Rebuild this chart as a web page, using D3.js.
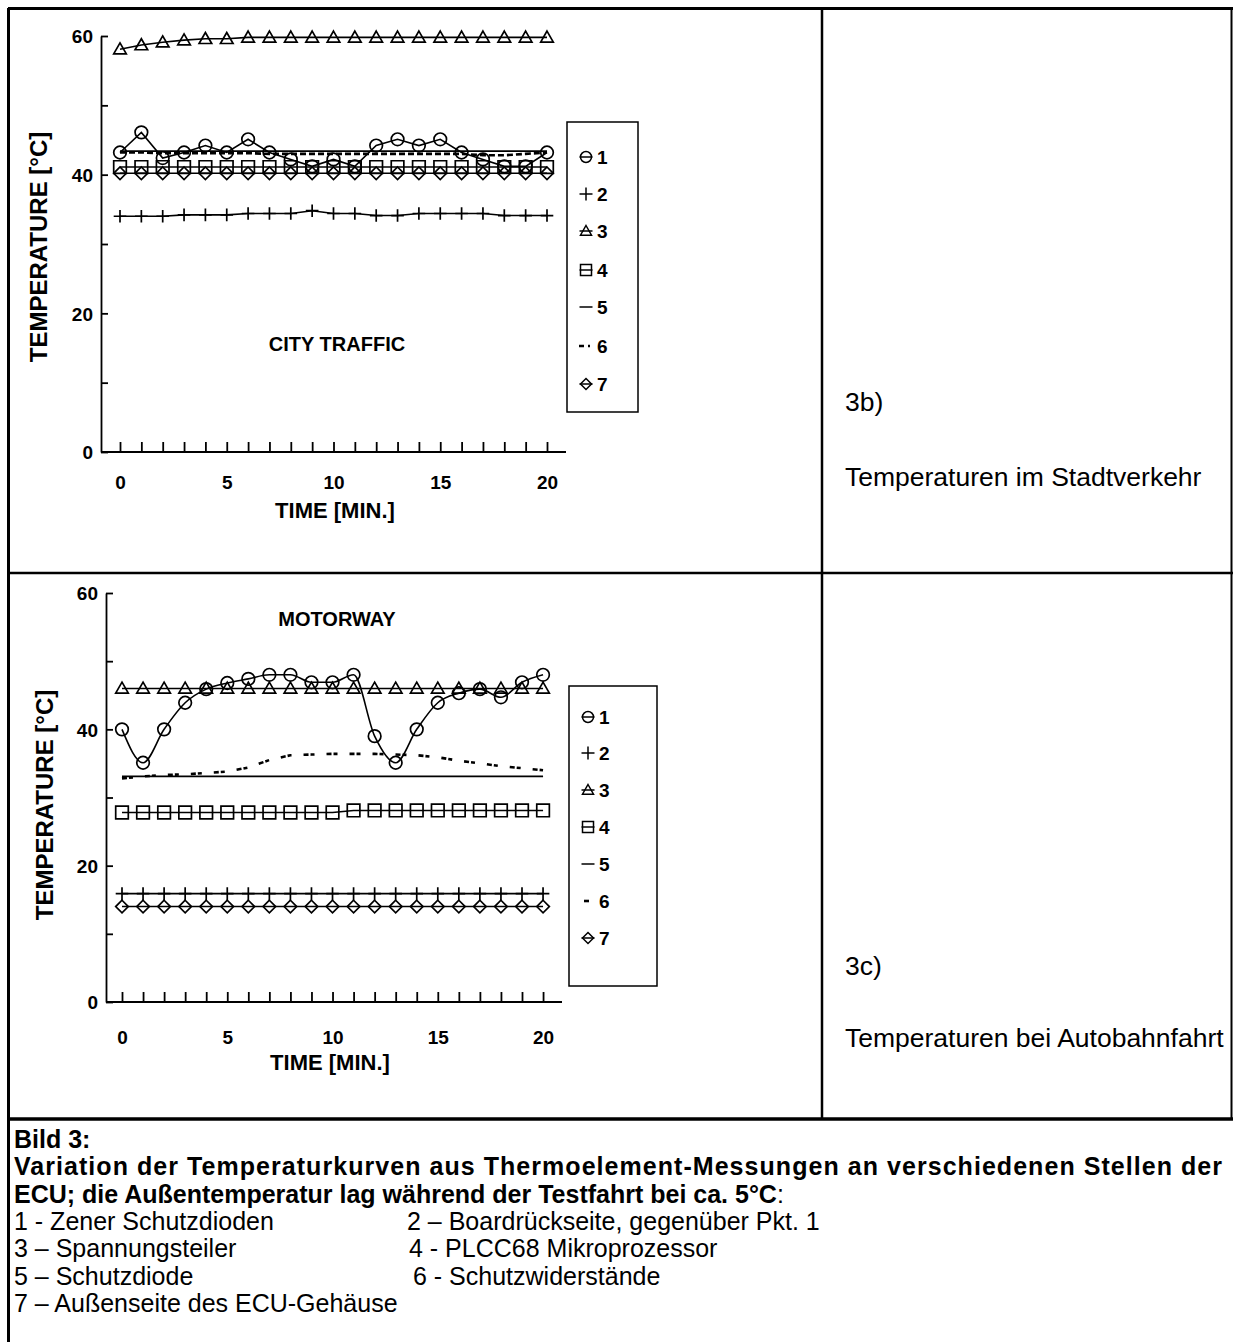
<!DOCTYPE html>
<html>
<head>
<meta charset="utf-8">
<script src="https://cdn.jsdelivr.net/npm/d3@7/dist/d3.min.js"></script>
<style>
  body { margin: 0; background: #fff; }
  svg { display: block; }
  text { font-family: "Liberation Sans", Arial, sans-serif; fill: #000; }
</style>
</head>
<body>
<svg id="fig" width="1233" height="1342"></svg>
<script>
// minutes on the x axis
const minutes = [0, 1, 2, 3, 4, 5, 6, 7, 8, 9, 10, 11, 12, 13, 14, 15, 16, 17, 18, 19, 20]
const xTickLabels = [0, 5, 10, 15, 20]
const yTicks = [0, 10, 20, 30, 40, 50, 60]
const yTickLabels = [0, 20, 40, 60]
const seriesNames = ['1', '2', '3', '4', '5', '6', '7']

// 3b) city traffic
const city1 = [43.2, 46.1, 42.4, 43.2, 44.2, 43.2, 45.1, 43.2, 42.2, 41.2, 42.2, 41.2, 44.2, 45.1, 44.2, 45.1, 43.2, 42.2, 41.2, 41.2, 43.2]
const city2 = [34.0, 34.0, 34.0, 34.2, 34.2, 34.2, 34.4, 34.4, 34.4, 34.8, 34.4, 34.4, 34.1, 34.1, 34.4, 34.4, 34.4, 34.4, 34.1, 34.1, 34.1]
const city3 = [58.1, 58.7, 59.1, 59.4, 59.6, 59.6, 59.8, 59.8, 59.8, 59.8, 59.8, 59.8, 59.8, 59.8, 59.8, 59.8, 59.8, 59.8, 59.8, 59.8, 59.8]
const city4 = [41.1, 41.1, 41.1, 41.1, 41.1, 41.1, 41.1, 41.1, 41.1, 41.1, 41.1, 41.1, 41.1, 41.1, 41.1, 41.1, 41.1, 41.1, 41.1, 41.1, 41.1]
const city5 = [43.4, 43.4, 43.4, 43.4, 43.4, 43.4, 43.4, 43.4, 43.4, 43.4, 43.4, 43.4, 43.4, 43.4, 43.4, 43.4, 43.4, 43.4, 43.4, 43.4, 43.4]
const city6 = [43.2, 43.2, 43.1, 43.1, 43.1, 43.1, 43.1, 43.0, 43.0, 43.0, 43.0, 43.0, 43.0, 43.0, 43.0, 43.0, 43.0, 42.8, 42.8, 43.0, 43.2]
const city7 = [40.2, 40.2, 40.2, 40.2, 40.2, 40.2, 40.2, 40.2, 40.2, 40.2, 40.2, 40.2, 40.2, 40.2, 40.2, 40.2, 40.2, 40.2, 40.2, 40.2, 40.2]

// 3c) motorway
const mw1 = [40.0, 35.1, 40.0, 43.9, 45.9, 46.8, 47.4, 48.0, 48.0, 46.9, 46.9, 48.0, 39.0, 35.1, 40.0, 43.9, 45.3, 45.9, 44.7, 46.9, 48.0]
const mw2 = [15.9, 15.9, 15.9, 15.9, 15.9, 15.9, 15.9, 15.9, 15.9, 15.9, 15.9, 15.9, 15.9, 15.9, 15.9, 15.9, 15.9, 15.9, 15.9, 15.9, 15.9]
const mw3 = [46.0, 46.0, 46.0, 46.0, 46.0, 46.0, 46.0, 46.0, 46.0, 46.0, 46.0, 46.0, 46.0, 46.0, 46.0, 46.0, 46.0, 46.0, 46.0, 46.0, 46.0]
const mw4 = [27.8, 27.8, 27.8, 27.8, 27.8, 27.8, 27.8, 27.8, 27.8, 27.8, 27.8, 28.1, 28.1, 28.1, 28.1, 28.1, 28.1, 28.1, 28.1, 28.1, 28.1]
const mw5 = [33.1, 33.1, 33.1, 33.1, 33.1, 33.1, 33.1, 33.1, 33.1, 33.1, 33.1, 33.1, 33.1, 33.1, 33.1, 33.1, 33.1, 33.1, 33.1, 33.1, 33.1]
const mw6 = [32.8, 33.1, 33.3, 33.4, 33.6, 33.8, 34.4, 35.5, 36.2, 36.3, 36.4, 36.4, 36.4, 36.3, 36.2, 35.9, 35.4, 35.0, 34.6, 34.3, 34.0]
const mw7 = [14.0, 14.0, 14.0, 14.0, 14.0, 14.0, 14.0, 14.0, 14.0, 14.0, 14.0, 14.0, 14.0, 14.0, 14.0, 14.0, 14.0, 14.0, 14.0, 14.0, 14.0]

const captionHead = ['Bild 3:',
  'Variation der Temperaturkurven aus Thermoelement-Messungen an verschiedenen Stellen der',
  'ECU; die Außentemperatur lag während der Testfahrt bei ca. 5°C']
const captionItems = ['1 - Zener Schutzdioden', '2 – Boardrückseite, gegenüber Pkt. 1',
  '3 – Spannungsteiler', '4 - PLCC68 Mikroprozessor',
  '5 – Schutzdiode', '6 - Schutzwiderstände',
  '7 – Außenseite des ECU-Gehäuse']

const svg = d3.select('#fig')

// marker shapes, one per series
const markers = {
  circle: s => d3.symbol(d3.symbolCircle, Math.PI * s * s)(),
  plus: s => `M${-s},0H${s}M0,${-s}V${s}`,
  triangle: s => `M0,${-s}L${s},${s * 0.75}L${-s},${s * 0.75}Z`,
  square: s => `M${-s},${-s}h${2 * s}v${2 * s}h${-2 * s}Z`,
  none: s => '',
  diamond: s => `M0,${-s}L${s},0L0,${s}L${-s},0Z`
}
const markerOf = ['circle', 'plus', 'triangle', 'square', 'none', 'none', 'diamond']

const panels = [
  {
    series: [city1, city2, city3, city4, city5, city6, city7],
    title: 'CITY TRAFFIC', titlePos: [337, 351],
    xRange: [101, 566], xDomain: [-0.89, 20.89], yRange: [452, 36],
    xLabelY: 489, xTitle: [335, 518], yTitle: [47, 247],
    legend: { x: 567, y: 122, w: 71, h: 290, rows: [157, 194, 231, 270, 307, 346, 384] },
    dash6: '6,3', legend6: 'M-7,0H-2M2,0H4', smooth: false,
    side: ['3b)', 'Temperaturen im Stadtverkehr'], sideY: [411, 486]
  },
  {
    series: [mw1, mw2, mw3, mw4, mw5, mw6, mw7],
    title: 'MOTORWAY', titlePos: [337, 626],
    xRange: [106, 562], xDomain: [-0.76, 20.9], yRange: [1002, 593],
    xLabelY: 1044, xTitle: [330, 1070], yTitle: [53, 805],
    legend: { x: 569, y: 686, w: 88, h: 300, rows: [717, 753, 790, 827, 864, 901, 938] },
    dash6: '5,2,4,12', legend6: 'M-4,0H1', smooth: true,
    side: ['3c)', 'Temperaturen bei Autobahnfahrt'], sideY: [975, 1047]
  }
]

panels.forEach(p => drawPanel(p))

function drawPanel(p) {
  let x = d3.scaleLinear().domain(p.xDomain).range(p.xRange)
  let y = d3.scaleLinear().domain([0, 60]).range(p.yRange)

  // Axes, ticks pointing inward
  let xAxis = d3.axisBottom(x)
    .tickValues(minutes)
    .tickSizeInner(-10)
    .tickSizeOuter(0)
    .tickPadding(0)
    .tickFormat(d => xTickLabels.includes(d) ? d : '')
  let yAxis = d3.axisLeft(y)
    .tickValues(yTicks)
    .tickSizeInner(-7)
    .tickSizeOuter(0)
    .tickPadding(8)
    .tickFormat(d => yTickLabels.includes(d) ? d : '')

  let gx = svg.append('g')
    .attr('transform', `translate(0, ${p.yRange[0]})`)
    .call(xAxis)
  gx.selectAll('text')
    .attr('y', p.xLabelY - p.yRange[0])
    .attr('dy', 0)
  let gy = svg.append('g')
    .attr('transform', `translate(${p.xRange[0]}, 0)`)
    .call(yAxis)
  svg.selectAll('.tick line, .domain')
    .attr('stroke', '#000')
    .attr('stroke-width', 1.8)
  gx.selectAll('text').attr('font-size', 19).attr('font-weight', 'bold')
  gy.selectAll('text').attr('font-size', 19).attr('font-weight', 'bold').attr('dy', '0.36em')
  gx.select('.domain').attr('d', `M${p.xRange[0]},0H${p.xRange[1]}`)

  // Axis titles
  svg.append('text')
    .attr('x', p.xTitle[0]).attr('y', p.xTitle[1])
    .attr('text-anchor', 'middle')
    .attr('font-size', 22).attr('font-weight', 'bold')
    .text('TIME [MIN.]')
  svg.append('text')
    .attr('transform', `translate(${p.yTitle[0]}, ${p.yTitle[1]}) rotate(-90)`)
    .attr('text-anchor', 'middle')
    .attr('font-size', 24).attr('font-weight', 'bold')
    .text('TEMPERATURE [°C]')
  svg.append('text')
    .attr('x', p.titlePos[0]).attr('y', p.titlePos[1])
    .attr('text-anchor', 'middle')
    .attr('font-size', 20).attr('font-weight', 'bold')
    .text(p.title)

  // Lines
  p.series.forEach((vals, i) => {
    let curve = (p.smooth && i === 0) ? d3.curveMonotoneX : d3.curveLinear
    let line = d3.line().curve(curve).x((d, j) => x(minutes[j])).y(d => y(d))
    svg.append('path')
      .attr('d', line(vals))
      .attr('fill', 'none')
      .attr('stroke', '#000')
      .attr('stroke-width', i === 5 ? 2.6 : 1.6)
      .attr('stroke-dasharray', i === 5 ? p.dash6 : null)
  })

  // Markers
  p.series.forEach((vals, i) => {
    if (markerOf[i] === 'none') return
    svg.append('g').selectAll('path')
      .data(vals)
      .enter()
      .append('path')
      .attr('transform', (d, j) => `translate(${x(minutes[j])}, ${y(d)})`)
      .attr('d', markers[markerOf[i]](6.3))
      .attr('fill', 'none')
      .attr('stroke', '#000')
      .attr('stroke-width', 1.7)
  })

  // Legend box
  let lg = p.legend
  svg.append('rect')
    .attr('x', lg.x).attr('y', lg.y).attr('width', lg.w).attr('height', lg.h)
    .attr('fill', 'none').attr('stroke', '#000').attr('stroke-width', 1.5)
  seriesNames.forEach((name, i) => {
    let g = svg.append('g').attr('transform', `translate(${lg.x + 19}, ${lg.rows[i]})`)
    if (i === 5) {
      g.append('path').attr('d', p.legend6)
        .attr('stroke', '#000').attr('stroke-width', 2.6)
    } else {
      g.append('path').attr('d', 'M-6.5,0H6.5').attr('stroke', '#000').attr('stroke-width', 1.5)
    }
    if (markerOf[i] !== 'none' && markerOf[i] !== 'plus') {
      g.append('path').attr('d', markers[markerOf[i]](5.5))
        .attr('fill', 'none').attr('stroke', '#000').attr('stroke-width', 1.5)
    }
    if (markerOf[i] === 'plus') {
      g.append('path').attr('d', 'M0,-6.5V6.5').attr('stroke', '#000').attr('stroke-width', 1.5)
    }
    g.append('text')
      .attr('x', 11).attr('y', 0).attr('dy', '0.36em')
      .attr('font-size', 19).attr('font-weight', 'bold')
      .text(name)
  })

  // Right-hand description
  svg.append('text').attr('x', 845).attr('y', p.sideY[0]).attr('font-size', 26.5).text(p.side[0])
  svg.append('text').attr('x', 845).attr('y', p.sideY[1]).attr('font-size', 26.5).text(p.side[1])
}

// Frame of the table
const frame = [
  [8, 8.5, 1233, 8.5, 3],
  [8.5, 8, 8.5, 1342, 3],
  [1231.5, 8, 1231.5, 1119, 2],
  [822, 8, 822, 1119, 2.5],
  [8, 573, 1233, 573, 2.5],
  [8, 1119, 1233, 1119, 3.5]
]
svg.append('g').selectAll('line')
  .data(frame)
  .enter()
  .append('line')
  .attr('x1', d => d[0]).attr('y1', d => d[1])
  .attr('x2', d => d[2]).attr('y2', d => d[3])
  .attr('stroke', '#000')
  .attr('stroke-width', d => d[4])

// Caption
const cap = svg.append('g').attr('font-size', 25)
captionHead.forEach((t, i) => {
  let tx = cap.append('text')
    .attr('x', 14).attr('y', 1148 + i * 27.3)
    .attr('font-weight', 'bold')
    .text(t)
  if (i === 1) tx.attr('textLength', 1208).attr('lengthAdjust', 'spacing')
  if (i === 2) tx.append('tspan').attr('font-weight', 'normal').text(':')
})
captionItems.forEach((t, i) => {
  let col = i % 2
  let row = Math.floor(i / 2)
  cap.append('text')
    .attr('x', col === 0 ? 14 : [407, 409, 413][row])
    .attr('y', 1230 + row * 27.3)
    .text(t)
})
</script>
</body>
</html>
